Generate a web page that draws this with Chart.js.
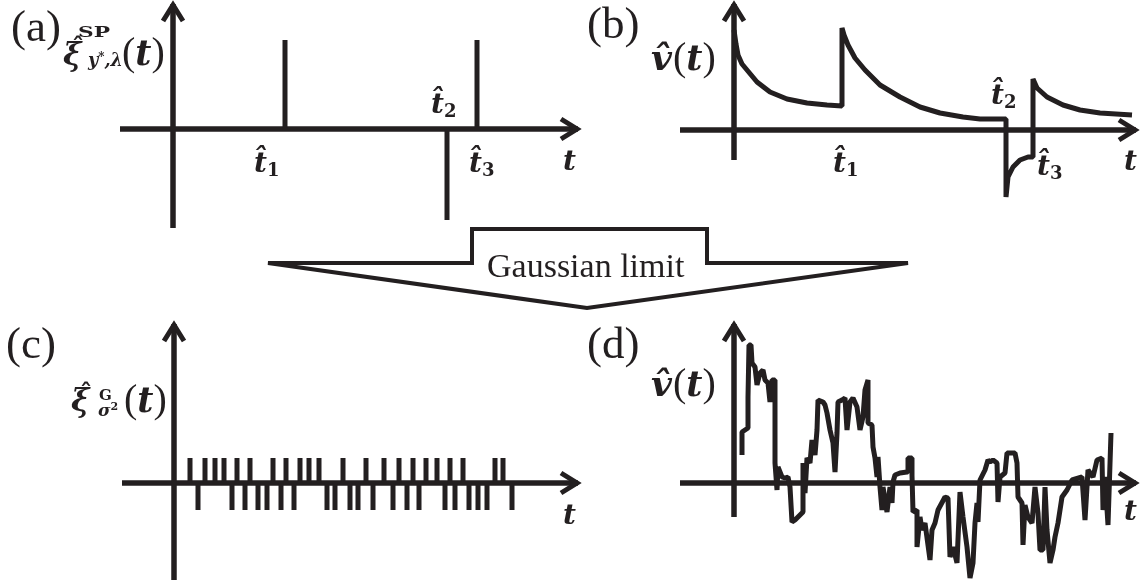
<!DOCTYPE html>
<html><head><meta charset="utf-8">
<script src="https://cdn.jsdelivr.net/npm/chart.js@4.4.1/dist/chart.umd.min.js"></script>
<style>
html,body{margin:0;padding:0;background:#fff;}
#wrap{position:relative;width:1144px;height:585px;overflow:hidden;background:#fff;}
canvas{position:absolute;}
#ov{position:absolute;left:0;top:0;}
</style></head>
<body>
<div id="wrap">
<canvas id="ca" width="500" height="240" style="left:100px;top:0px"></canvas>
<canvas id="cb" width="484" height="240" style="left:660px;top:0px"></canvas>
<canvas id="cc" width="500" height="285" style="left:100px;top:300px"></canvas>
<canvas id="cd" width="484" height="285" style="left:660px;top:300px"></canvas>
<svg id="ov" width="1144" height="585" xmlns="http://www.w3.org/2000/svg" fill="#231f20"></svg>
</div>
<script>
// ---------- data ----------
// (a) spike train
const spikeTimesA = [112, 274, 304];
const spikeHeightsA = [89, -91, 89];
// (b) response v(t)
const timesB  = [0, 2, 4, 8, 13, 23, 36, 53, 73, 93, 108,
                 108, 110, 114, 121, 131, 146, 166, 186, 206, 229, 246, 272,
                 272, 274, 279, 286, 294, 299,
                 299, 303, 313, 329, 346, 366, 398];
const valuesB = [100, 86, 75, 66, 60, 48, 38, 31, 27, 25, 24,
                 102, 95, 85, 72, 60, 45, 33, 23, 17, 13, 11, 11,
                 -67, -47, -37, -30, -27, -27,
                 51, 42, 33, 25, 20, 17, 15];
// (c) Gaussian pulse train
const upTimesC   = [16, 31, 41, 50, 63, 76, 99, 112, 126, 135, 145, 169, 192, 210, 225, 239, 252, 263, 276, 289, 321, 329];
const downTimesC = [24, 58, 71, 84, 93, 107, 120, 153, 161, 176, 184, 199, 219, 233, 245, 271, 281, 295, 304, 313, 338];
const pulseUpC = 25;
const pulseDownC = -27;
// (d) random walk v(t)
const timesD  = [8, 8, 14, 14, 15, 17, 18, 21, 23, 26, 29, 31, 34, 36, 38, 41, 41, 43, 44, 48, 51, 54, 56, 58, 61, 69, 69, 71, 73, 76, 78, 81, 83, 84, 89, 91, 93, 96, 99, 101, 103, 104, 108, 111, 113, 116, 119, 123, 126, 129, 131, 134, 134, 138, 139, 141, 143, 144, 146, 148, 149, 153, 156, 158, 159, 161, 166, 173, 174, 178, 178, 179, 183, 183, 186, 188, 191, 196, 198, 201, 204, 211, 214, 216, 219, 223, 226, 229, 233, 236, 239, 241, 243, 244, 246, 251, 254, 256, 259, 263, 264, 266, 271, 273, 281, 283, 284, 288, 289, 291, 294, 298, 301, 304, 306, 309, 311, 313, 316, 319, 321, 324, 328, 333, 338, 348, 351, 354, 359, 363, 368, 369, 371, 374, 377];
const valuesD = [28, 51, 55, 86, 138, 138, 120, 116, 98, 110, 113, 103, 100, 81, 103, 103, 20, -7, 16, 6, 5, 6, -4, -39, -37, -29, 20, -10, 25, 20, 43, 28, 53, 83, 81, 78, 70, 53, 40, 11, 50, 81, 83, 85, 53, 81, 85, 76, 53, 66, 93, 103, 60, 58, 36, 25, 6, 26, -4, -27, -4, -29, -4, -20, 1, 8, 10, 11, 25, 25, 8, -29, -27, -64, -34, -47, -40, -77, -47, -40, -27, -14, -15, -74, -64, -80, -9, -34, -64, -95, -80, -40, -20, -39, 3, 13, 23, 21, 23, 20, -19, 6, 10, 30, 30, 20, -14, -20, -62, -22, -34, -40, -4, -30, -67, -67, -4, -47, -80, -67, -54, -40, -14, -7, 3, 6, -37, 13, 6, 23, 25, -27, 6, -42, 50];

// ---------- text overlay (real SVG text) ----------
const INK = '#231f20';
const SERIF_T = "Liberation Serif";
const SERIF_M = "DejaVu Serif";
const svg = document.getElementById('ov');
const NS = 'http://www.w3.org/2000/svg';
function txt(parts, x, y, opts) {
  const t = document.createElementNS(NS, 'text');
  t.setAttribute('x', x); t.setAttribute('y', y);
  if (opts && opts.len) { t.setAttribute('textLength', opts.len); t.setAttribute('lengthAdjust', 'spacingAndGlyphs'); }
  parts.forEach(p => {
    const s = document.createElementNS(NS, 'tspan');
    s.textContent = p.s;
    s.setAttribute('font-family', p.f || SERIF_M);
    s.setAttribute('font-size', p.z);
    s.setAttribute('font-weight', p.b ? 'bold' : 'normal');
    s.setAttribute('font-style', p.i ? 'italic' : 'normal');
    if (p.dy) s.setAttribute('dy', p.dy);
    if (p.dx) s.setAttribute('dx', p.dx);
    t.appendChild(s);
  });
  svg.appendChild(t);
}
// arrow box
const poly = document.createElementNS(NS, 'polygon');
poly.setAttribute('points', '268,263 472,263 472,229 707,229 707,263 908,263 587,308');
poly.setAttribute('fill', '#fff'); poly.setAttribute('stroke', INK); poly.setAttribute('stroke-width', '4');
svg.appendChild(poly);
txt([{s: 'Gaussian limit', f: SERIF_T, z: 34}], 487, 277);

// panel letters
txt([{s: '(a)', f: SERIF_T, z: 45}], 11, 41);
txt([{s: '(b)', f: SERIF_T, z: 45}], 587, 38);
txt([{s: '(c)', f: SERIF_T, z: 45}], 6, 358);
txt([{s: '(d)', f: SERIF_T, z: 45}], 587, 358);

function tHat(x, y, sub) {
  txt([{s: 't̂', z: 28, b: 1, i: 1}, {s: sub, z: 18, b: 1, dy: 4}], x, y);
}
function vLabel(x, y) {
  txt([{s: 'v̂', z: 36, b: 1, i: 1}, {s: '(', z: 40, f: SERIF_T, dx: 1}, {s: 't', z: 35, b: 1, i: 1}, {s: ')', z: 40, f: SERIF_T}], x, y);
}
function parenT(x, y) {
  txt([{s: '(', z: 40, f: SERIF_T}, {s: 't', z: 35, b: 1, i: 1}, {s: ')', z: 40, f: SERIF_T}], x, y);
}
// (a) ylabel
txt([{s: 'ξ', z: 31, b: 1, i: 1}], 63, 65);
txt([{s: 'ˆ', z: 24, b: 1}], 72, 55);
txt([{s: 'SP', z: 14, b: 1}], 78, 37, {len: 32});
txt([{s: 'y', z: 18, b: 1, i: 1}, {s: '*', z: 12, b: 1, dy: -5}, {s: ',λ', z: 18, b: 1, i: 1, dy: 5}], 88, 66, {len: 35});
parenT(122, 65);
tHat(254, 172, '1'); tHat(431, 113, '2'); tHat(469, 172, '3');
txt([{s: 't', z: 28, b: 1, i: 1}], 563, 170);
// (b)
vLabel(651, 70);
tHat(833, 172, '1'); tHat(991, 104, '2'); tHat(1037, 175, '3');
txt([{s: 't', z: 28, b: 1, i: 1}], 1124, 170);
// (c)
txt([{s: 'ξ', z: 31, b: 1, i: 1}], 71, 411);
txt([{s: 'ˆ', z: 24, b: 1}], 80, 401);
txt([{s: 'G', z: 15, b: 1}], 99, 400);
txt([{s: 'σ', z: 17, b: 1, i: 1}, {s: '2', z: 11, b: 1, dy: -6}], 98, 416);
parenT(124, 412);
txt([{s: 't', z: 28, b: 1, i: 1}], 563, 524);
// (d)
vLabel(651, 396);
txt([{s: 't', z: 28, b: 1, i: 1}], 1124, 520);

// ---------- charts ----------
function spikePoints(times, heights) {
  const pts = [];
  times.forEach((t, i) => { pts.push({x: t, y: 0}, {x: t, y: heights[i]}, {x: t, y: null}); });
  return pts;
}
function zipPoints(xs, ys) { return xs.map((x, i) => ({x: x, y: ys[i]})); }

const arrowAxes = {
  id: 'arrowAxes',
  beforeDatasetsDraw(chart, args, o) {
    const ctx = chart.ctx, sx = chart.scales.x, sy = chart.scales.y;
    const x0 = sx.getPixelForValue(0), y0 = sy.getPixelForValue(0);
    const xa = sx.getPixelForValue(o.h[0]), xb = sx.getPixelForValue(o.h[1]);
    const ya = sy.getPixelForValue(o.v[0]), yb = sy.getPixelForValue(o.v[1]);
    ctx.save();
    ctx.strokeStyle = INK; ctx.lineWidth = o.w; ctx.lineCap = 'butt'; ctx.lineJoin = 'miter';
    ctx.beginPath(); ctx.moveTo(xa, y0); ctx.lineTo(xb - 2, y0); ctx.stroke();
    ctx.beginPath(); ctx.moveTo(x0, ya); ctx.lineTo(x0, yb + 2); ctx.stroke();
    ctx.lineWidth = o.w - 0.5;
    const L = o.L, P = o.P;
    ctx.beginPath(); ctx.moveTo(xb - 3 - L, y0 - P); ctx.lineTo(xb - 3, y0); ctx.lineTo(xb - 3 - L, y0 + P); ctx.stroke();
    ctx.beginPath(); ctx.moveTo(x0 - P, yb + 3 + L); ctx.lineTo(x0, yb + 3); ctx.lineTo(x0 + P, yb + 3 + L); ctx.stroke();
    ctx.restore();
  }
};

function lineSet(points, width, join) {
  return { data: points, showLine: true, spanGaps: false, borderColor: INK, borderWidth: width,
           pointRadius: 0, tension: 0, borderCapStyle: 'butt', borderJoinStyle: join, clip: 20 };
}

function makeChart(id, datasets, xr, yr, axes) {
  return new Chart(document.getElementById(id), {
    type: 'scatter',
    data: { datasets: datasets },
    options: {
      responsive: false, animation: false, devicePixelRatio: 1, events: [],
      layout: { padding: 0 },
      scales: {
        x: { type: 'linear', display: false, min: xr[0], max: xr[1] },
        y: { type: 'linear', display: false, min: yr[0], max: yr[1] }
      },
      plugins: { legend: { display: false }, tooltip: { enabled: false }, arrowAxes: axes }
    },
    plugins: [arrowAxes]
  });
}

const pulsesC = spikePoints(upTimesC, upTimesC.map(() => pulseUpC))
  .concat(spikePoints(downTimesC, downTimesC.map(() => pulseDownC)));

makeChart('ca', [lineSet(spikePoints(spikeTimesA, spikeHeightsA), 5, 'miter')],
  [-73, 427], [-111, 129], { h: [-53, 407], v: [-99, 127], w: 5.5, L: 16, P: 10 });
makeChart('cb', [lineSet(zipPoints(timesB, valuesB), 5, 'bevel')],
  [-74, 410], [-110, 130], { h: [-54, 404], v: [-30, 128], w: 5.5, L: 16, P: 10 });
makeChart('cc', [lineSet(pulsesC, 5, 'miter')],
  [-74, 426], [-102, 183], { h: [-52, 406], v: [-97, 161], w: 5.5, L: 16, P: 10 });
makeChart('cd', [lineSet(zipPoints(timesD, valuesD), 5, 'bevel')],
  [-74, 410], [-102, 183], { h: [-54, 404], v: [-34, 161], w: 5.5, L: 16, P: 10 });
</script>
</body></html>
